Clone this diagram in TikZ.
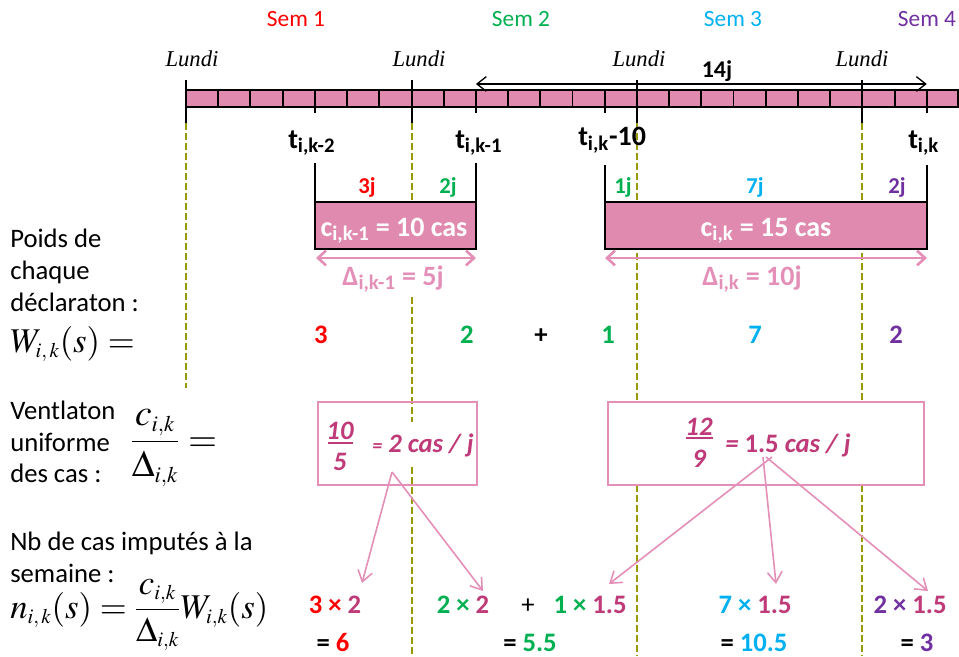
\documentclass[tikz,border=0pt]{standalone}
\usepackage{mathptmx}
\usepackage[no-math]{fontspec}
\setmainfont{Carlito}
\newfontfamily\handfont{Liberation Serif}
\usetikzlibrary{arrows.meta}
\definecolor{sred}{HTML}{FF0000}
\definecolor{sgreen}{HTML}{00B050}
\definecolor{sblue}{HTML}{00B0F0}
\definecolor{spurple}{HTML}{7030A0}
\definecolor{pinkfill}{HTML}{E18AB0}
\definecolor{pinkline}{HTML}{E48FB7}
\definecolor{mag}{HTML}{BF3A78}
\definecolor{olv}{HTML}{9A9A00}
\newcommand{\ssub}[1]{_{\scriptscriptstyle #1}}
\tikzset{
  body/.style={font=\fontsize{20}{24}\selectfont, inner sep=0pt, anchor=base west},
  semlbl/.style={font=\fontsize{17.5}{20}\selectfont, inner sep=0pt, anchor=base},
  lundi/.style={font=\handfont\itshape\fontsize{17}{19}\selectfont, inner sep=0pt, anchor=base},
  tlbl/.style={font=\bfseries\fontsize{21}{24}\selectfont, inner sep=0pt, anchor=base west},
  dlbl/.style={font=\bfseries\fontsize{17}{20}\selectfont, inner sep=0pt, anchor=base},
  clbl/.style={font=\bfseries\fontsize{21}{24}\selectfont, text=white, inner sep=0pt, anchor=base},
  deltalbl/.style={font=\bfseries\fontsize{21}{24}\selectfont, text=pinkline, inner sep=0pt, anchor=base},
  wnum/.style={font=\bfseries\fontsize{20}{24}\selectfont, inner sep=0pt, anchor=base},
  vtxt/.style={font=\bfseries\itshape\fontsize{20}{24}\selectfont, text=mag, inner sep=0pt, anchor=base},
  olvline/.style={draw=olv, line width=1.5pt, dash pattern=on 5pt off 2.5pt},
  blackline/.style={draw=black, line width=1.4pt},
  pinkarr/.style={draw=pinkline, line width=2pt, {Straight Barb[length=6pt,width=11pt]}-{Straight Barb[length=6pt,width=11pt]}},
  splitarr/.style={draw=pinkline, line width=1.2pt, -{Straight Barb[length=8pt,width=11pt]}},
  mathf/.style={inner sep=0pt, anchor=base west, font=\fontsize{26}{30}\selectfont}
}
\begin{document}
\begin{tikzpicture}[x=0.75pt,y=-0.75pt]
\useasboundingbox (0,0) rectangle (959,656);

% dashed olive week lines
\draw[olvline] (186,123) -- (186,388);
\draw[olvline] (411.5,123) -- (411.5,249);
\draw[olvline] (411.5,297) -- (411.5,422);
\draw[olvline] (411.5,467) -- (411.5,656);
\draw[olvline] (636.9,123) -- (636.9,402);
\draw[olvline] (636.9,485) -- (636.9,656);
\draw[olvline] (862.4,123) -- (862.4,402);
\draw[olvline] (862.4,485) -- (862.4,656);

% Sem labels
\node[semlbl, text=sred] (s1) at (296,27) {Sem 1};
\node[semlbl, text=sgreen] (s2) at (521,27) {Sem 2};
\node[semlbl, text=sblue] (s3) at (733,27) {Sem 3};
\node[semlbl, text=spurple] (s4) at (927,27) {Sem 4};

% Lundi labels
\node[lundi] (l1) at (192,67) {Lundi};
\node[lundi] (l2) at (419,67) {Lundi};
\node[lundi] (l3) at (639,67) {Lundi};
\node[lundi] (l4) at (862,67) {Lundi};

% timeline bar
\draw[blackline, fill=pinkfill] (186,90) rectangle (958.3,107);
\foreach \k in {1,...,23} \draw[blackline] ({186+\k*32.208},90) -- ({186+\k*32.208},107);
\foreach \x in {186,411.5,636.9,862.4} \draw[line width=1.5pt] (\x,80) -- (\x,123);
\foreach \x in {314.8,475.9,604.7,926.8} \draw[blackline] (\x,107) -- (\x,113);

% 14j arrow
\coordinate (a14l) at (475.9,84);
\coordinate (a14r) at (926.8,84);
\draw[line width=1pt, {Straight Barb[length=7pt,width=11pt]}-{Straight Barb[length=7pt,width=11pt]}] (a14l) -- (a14r);
\node[font=\bfseries\fontsize{18}{20}\selectfont, inner sep=0pt, anchor=base] (d14) at (717,78) {14j};

% t labels
\node[tlbl] (t1) at (288,148) {t\textsubscript{i,k-2}};
\node[tlbl] (t2) at (455,148) {t\textsubscript{i,k-1}};
\node[tlbl] (t3) at (578,146) {t\textsubscript{i,k}-10};
\node[tlbl] (t4) at (908,148) {t\textsubscript{i,k}};

% declaration boxes
\draw[blackline] (314.8,163) -- (314.8,249);
\draw[blackline] (475.9,163) -- (475.9,249);
\draw[blackline, fill=pinkfill] (314.8,202) rectangle (475.9,249);
\draw[blackline] (604.7,165) -- (604.7,249);
\draw[blackline] (926.8,165) -- (926.8,249);
\draw[blackline, fill=pinkfill] (604.7,202) rectangle (926.8,249);

\node[dlbl, text=sred] (j3) at (367,193) {3j};
\node[dlbl, text=sgreen] (j2a) at (448,193) {2j};
\node[dlbl, text=sgreen] (j1) at (623,193) {1j};
\node[dlbl, text=sblue] (j7) at (755,193) {7j};
\node[dlbl, text=spurple] (j2b) at (897,193) {2j};

\node[clbl] (c1) at (394,236) {c\textsubscript{i,k-1} = 10 cas};
\node[clbl] (c2) at (766,236) {c\textsubscript{i,k} = 15 cas};

% Delta arrows
\coordinate (d1l) at (316,258);
\coordinate (d1r) at (476,258);
\coordinate (d2l) at (605,258);
\coordinate (d2r) at (927,258);
\draw[pinkarr] (d1l) -- (d1r);
\draw[pinkarr] (d2l) -- (d2r);
\node[deltalbl] (D1) at (393,285) {Δ\textsubscript{i,k-1} = 5j};
\node[deltalbl] (D2) at (752,285) {Δ\textsubscript{i,k} = 10j};

% left texts
\node[body] (p1) at (10,247) {Poids de};
\node[body] (p2) at (10,279) {chaque};
\node[body] (p3) at (10,311) {déclaraton :};
\node[mathf] (fw) at (10,352) {$W\ssub{i,\,k}(s) =$};

\node[body] (v1) at (10,419) {Ventlaton};
\node[body] (v2) at (10,451) {uniforme};
\node[body] (v3) at (10,482) {des cas :};
\node[mathf, font=\fontsize{28}{32}\selectfont] (fv) at (130,451) {$\displaystyle\frac{c\ssub{i,k}\rule{0pt}{20pt}}{\Delta\ssub{i,k}\rule[-10pt]{0pt}{10pt}} =$};

\node[body] (n1) at (10,550) {Nb de cas imputés à la};
\node[body] (n2) at (10,582) {semaine :};
\node[mathf] (fn) at (10,618) {$\displaystyle n\ssub{i,\,k}(s) = \frac{c\ssub{i,k}\rule{0pt}{18pt}}{\Delta\ssub{i,k}\rule[-8pt]{0pt}{8pt}}W\ssub{i,k}(s)$};

% weights row
\node[wnum, text=sred] (w1) at (321,343) {3};
\node[wnum, text=sgreen] (w2) at (467,343) {2};
\node[wnum] (wp) at (541,343) {+};
\node[wnum, text=sgreen] (w3) at (608,343) {1};
\node[wnum, text=sblue] (w4) at (755,343) {7};
\node[wnum, text=spurple] (w5) at (896,343) {2};

% ventilation boxes
\draw[draw=pinkline, line width=1.5pt] (318,402) rectangle (477,485);
\draw[draw=pinkline, line width=1.5pt, fill=white] (608,402) rectangle (924,485);

\node[vtxt] (f1n) at (340,439) {10};
\draw[draw=mag, line width=1.8pt] (328,443) -- (353,443);
\node[vtxt] (f1d) at (340,470) {5};
\node[vtxt, anchor=base west] (r1) at (372,452) {{\fontsize{15}{18}\selectfont =} 2 cas / j};

\node[vtxt] (f2n) at (699,435) {12};
\draw[draw=mag, line width=1.8pt] (686,438) -- (713,438);
\node[vtxt] (f2d) at (699,467) {9};
\node[vtxt, anchor=base west] (r2) at (725,452) {= \upshape 1.5 \itshape cas / j};

% split arrows
\coordinate (o1) at (392,472);
\coordinate (e1) at (362,583);
\coordinate (e2) at (483,591);
\draw[splitarr] (o1) -- (e1);
\draw[splitarr] (o1) -- (e2);
\coordinate (o2a) at (772,457);
\coordinate (o2b) at (763,457);
\coordinate (o2c) at (766,457);
\coordinate (e3) at (609,584);
\coordinate (e4) at (776,584);
\coordinate (e5) at (928,591);
\draw[splitarr] (o2a) -- (e3);
\draw[splitarr] (o2b) -- (e4);
\draw[splitarr] (o2c) -- (e5);

% bottom products
\node[wnum] (b1) at (335,613) {\textcolor{sred}{3 ×} \textcolor{mag}{2}};
\node[wnum] (b2) at (463,613) {\textcolor{sgreen}{2 ×} \textcolor{mag}{2}};
\node[inner sep=0pt, anchor=base, font=\fontsize{20}{24}\selectfont] (bp) at (528,613) {+};
\node[wnum] (b3) at (590,613) {\textcolor{sgreen}{1 ×} \textcolor{mag}{1.5}};
\node[wnum] (b4) at (755,613) {\textcolor{sblue}{7 ×} \textcolor{mag}{1.5}};
\node[wnum] (b5) at (910,613) {\textcolor{spurple}{2 ×} \textcolor{mag}{1.5}};

\node[wnum] (r6) at (333,651) {= \textcolor{sred}{6}};
\node[wnum] (r55) at (530,651) {= \textcolor{sgreen}{5.5}};
\node[wnum] (r105) at (754,651) {= \textcolor{sblue}{10.5}};
\node[wnum] (r3) at (917,651) {= \textcolor{spurple}{3}};
\end{tikzpicture}
\end{document}
